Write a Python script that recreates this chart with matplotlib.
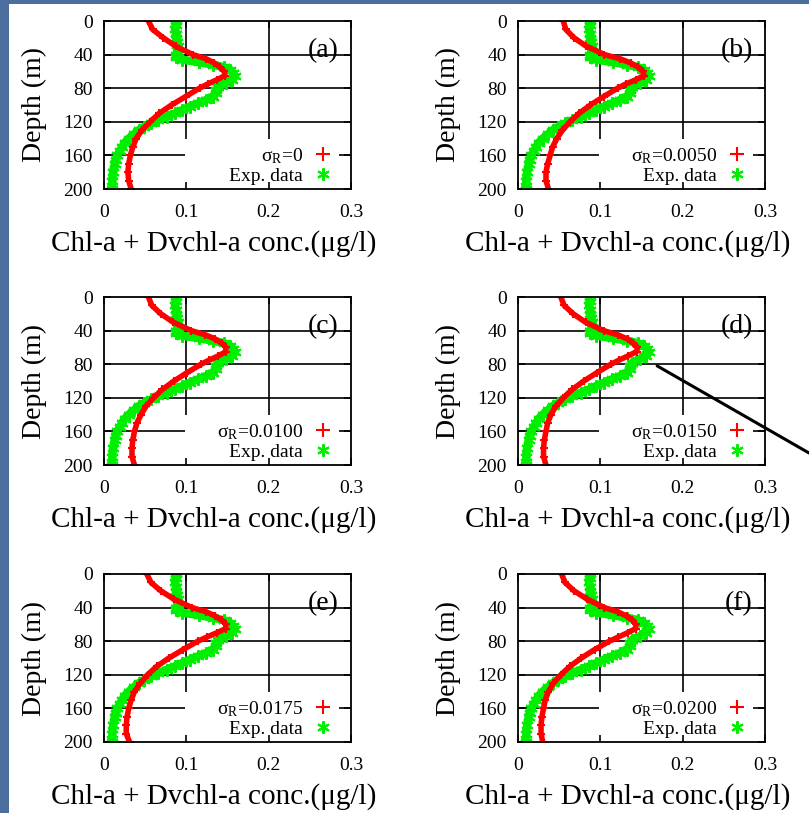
import matplotlib.pyplot as plt
from matplotlib.lines import Line2D
from matplotlib.patches import Rectangle, ConnectionPatch

plt.rcParams['font.family'] = 'Liberation Serif'
plt.rcParams['mathtext.fontset'] = 'custom'
plt.rcParams['mathtext.rm'] = 'Liberation Serif'
plt.rcParams['mathtext.it'] = 'Liberation Serif:italic'

# model profiles (red), one per sigma_R value
depth_model = [0, 10, 20, 30, 40, 45, 50, 55, 60, 65, 70, 75, 80, 90, 100,
               110, 120, 130, 140, 150, 160, 170, 180, 190, 200]
model_a = [0.054, 0.059, 0.072, 0.087, 0.108, 0.124, 0.134, 0.141, 0.146, 0.147, 0.137, 0.126, 0.116,
           0.099, 0.082, 0.067, 0.056, 0.046, 0.039, 0.035, 0.032, 0.030, 0.029, 0.030, 0.033]
model_b = [0.055, 0.058, 0.068, 0.083, 0.105, 0.124, 0.137, 0.146, 0.152, 0.153, 0.143, 0.131, 0.121,
           0.104, 0.088, 0.074, 0.063, 0.054, 0.047, 0.042, 0.039, 0.036, 0.034, 0.034, 0.037]
model_c = [0.054, 0.058, 0.069, 0.084, 0.106, 0.123, 0.135, 0.143, 0.148, 0.148, 0.139, 0.128, 0.118,
           0.101, 0.085, 0.071, 0.060, 0.051, 0.045, 0.040, 0.037, 0.035, 0.034, 0.034, 0.037]
model_d = [0.052, 0.056, 0.067, 0.082, 0.104, 0.121, 0.133, 0.140, 0.145, 0.144, 0.134, 0.123, 0.113,
           0.096, 0.080, 0.066, 0.055, 0.046, 0.040, 0.036, 0.034, 0.032, 0.031, 0.031, 0.034]
model_e = [0.052, 0.057, 0.069, 0.085, 0.107, 0.124, 0.135, 0.143, 0.148, 0.148, 0.137, 0.125, 0.114,
           0.096, 0.079, 0.064, 0.053, 0.044, 0.037, 0.033, 0.030, 0.028, 0.027, 0.027, 0.031]
model_f = [0.053, 0.057, 0.068, 0.084, 0.105, 0.121, 0.132, 0.139, 0.143, 0.143, 0.133, 0.122, 0.111,
           0.093, 0.077, 0.063, 0.052, 0.043, 0.037, 0.033, 0.031, 0.029, 0.028, 0.028, 0.030]

# measured profile (green), same in every panel
exp_depth = [0, 5, 10, 15, 20, 25, 30, 35, 40, 43, 46, 49, 52, 55, 58, 62, 66, 70, 74, 78, 82, 86,
             90, 94, 98, 102, 106, 110, 114, 118, 122, 126, 130, 135, 140, 145, 150, 155, 160,
             165, 170, 180, 190, 200]
exp_conc = [0.087, 0.088, 0.086, 0.088, 0.088, 0.089, 0.090, 0.089, 0.088, 0.087, 0.095, 0.115,
            0.132, 0.146, 0.153, 0.157, 0.159, 0.155, 0.148, 0.139, 0.136, 0.136, 0.132, 0.124,
            0.114, 0.104, 0.095, 0.086, 0.076, 0.066, 0.057, 0.049, 0.042, 0.036, 0.030, 0.025,
            0.022, 0.019, 0.016, 0.014, 0.013, 0.011, 0.010, 0.010]

sigma_labels = ['0', '0.0050', '0.0100', '0.0150', '0.0175', '0.0200']
panel_tags = ['(a)', '(b)', '(c)', '(d)', '(e)', '(f)']
models = [model_a, model_b, model_c, model_d, model_e, model_f]

x_ticks = [0, 0.1, 0.2, 0.3]
x_tick_labels = ['0', '0.1', '0.2', '0.3']
y_ticks = [0, 40, 80, 120, 160, 200]

fig = plt.figure(figsize=(8.09, 8.13), dpi=100, facecolor='#4b6e9c')
fig.add_artist(Rectangle((9 / 809, 0), 1, 1 - 4 / 813, transform=fig.transFigure,
                         facecolor='white', edgecolor='none', zorder=-1))

lefts = [104 / 809, 518 / 809]
bottoms = [1 - 189 / 813, 1 - 465 / 813, 1 - 742 / 813]
w, h = 247 / 809, 168 / 813

axes = []
for i in range(6):
    ax = fig.add_axes([lefts[i % 2], bottoms[i // 2], w, h])
    axes.append(ax)

    for v in [0.1, 0.2]:
        ax.axvline(v, color='black', lw=1.2, zorder=0.8)
    for d in [40, 80, 120, 160]:
        ax.axhline(d, color='black', lw=1.2, zorder=0.8)

    # blank key area over the grid
    ax.add_patch(Rectangle((0.0985, 200), 0.285 - 0.0985, -59, facecolor='white',
                           edgecolor='none', zorder=1.2))

    ax.plot(exp_conc, exp_depth, color='#00ee00', lw=6, marker=(6, 2, 0), ms=9,
            mew=1.5, zorder=2)
    ax.plot(models[i], depth_model, color='#ff0000', lw=4, marker='+', ms=6,
            mew=1.5, zorder=2.1)

    ax.set_xlim(0, 0.3)
    ax.set_ylim(200, 0)
    ax.set_xticks(x_ticks)
    ax.set_xticklabels(x_tick_labels)
    ax.set_yticks(y_ticks)
    ax.tick_params(direction='in', length=5, width=1.2, labelsize=14,
                   top=True, right=True)
    ax.tick_params(axis='x', pad=11)
    ax.tick_params(axis='y', pad=8)
    for s in ax.spines.values():
        s.set_linewidth(1.3)

    ax.set_xlabel('Chl-a + Dvchl-a conc.(μg/l)', fontsize=21, labelpad=6, x=0.445)
    ax.set_ylabel('Depth (m)', fontsize=20, labelpad=12)

    ax.text(0.95, 0.825, panel_tags[i], transform=ax.transAxes, ha='right',
            va='center', fontsize=20)

    handles = [Line2D([], [], color='#ff0000', marker='+', ls='none', ms=10, mew=1.5),
               Line2D([], [], color='#00ee00', marker=(6, 2, 0), ls='none', ms=9, mew=1.5)]
    labels = ['σ$_\\mathrm{R}$=' + sigma_labels[i], 'Exp. data']
    leg = ax.legend(handles, labels, loc='lower right', bbox_to_anchor=(0.94, 0.0),
                    markerfirst=False, fontsize=14, frameon=False,
                    handlelength=1.0, handletextpad=0.5,
                    labelspacing=0.1, borderaxespad=0.0, borderpad=0.2)
    leg.set_zorder(1.5)

# pointer out of panel (d)
con = ConnectionPatch(xyA=(0.169, 82), coordsA=axes[3].transData,
                      xyB=(1.0, 1 - 453 / 813), coordsB=fig.transFigure,
                      color='black', lw=2.2)
fig.add_artist(con)

fig.savefig('out.png', dpi=100, facecolor=fig.get_facecolor())
